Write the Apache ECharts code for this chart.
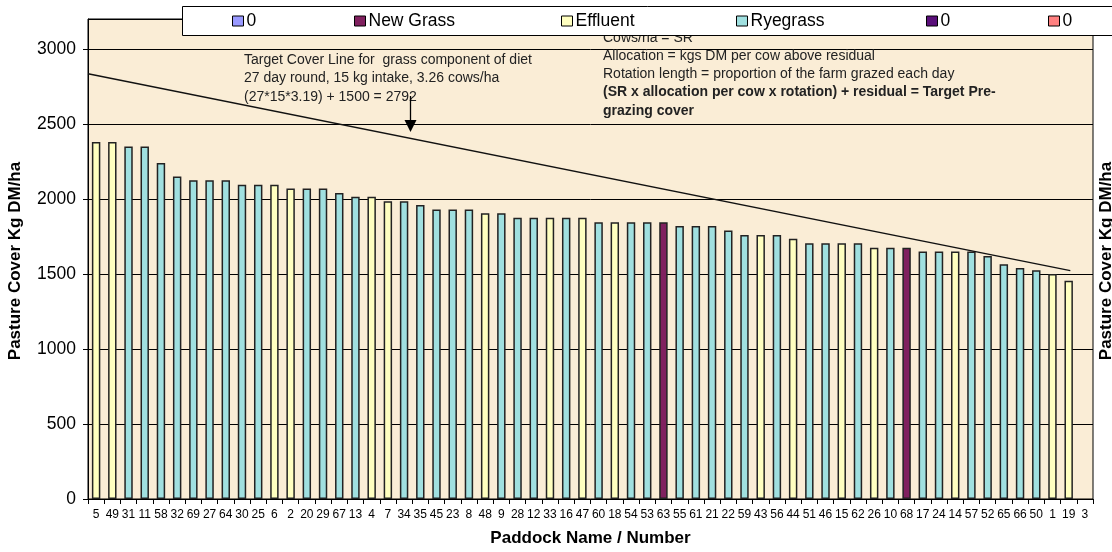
<!DOCTYPE html>
<html>
<head>
<meta charset="utf-8">
<script src="https://cdn.jsdelivr.net/npm/echarts@6/dist/echarts.min.js"></script>
<style>html,body{margin:0;padding:0;background:#fff;}#c{width:1112px;height:552px;}</style>
</head>
<body>
<div id="c"></div>
<script>
// ---- data ----
var paddocks = ['5','49','31','11','58','32','69','27','64','30','25','6','2','20','29','67','13','4','7','34','35','45','23','8','48','9','28','12','33','16','47','60','18','54','53','63','55','61','21','22','59','43','56','44','51','46','15','62','26','10','68','17','24','14','57','52','65','66','50','1','19','3'];
var covers = [2380,2380,2350,2350,2240,2150,2125,2125,2125,2095,2095,2095,2070,2070,2070,2040,2015,2015,1985,1985,1960,1930,1930,1930,1905,1905,1875,1875,1875,1875,1875,1845,1845,1845,1845,1845,1820,1820,1820,1790,1760,1760,1760,1735,1705,1705,1705,1705,1675,1675,1675,1650,1650,1650,1650,1620,1565,1540,1525,1500,1455,0];
// R = Ryegrass, Y = Effluent, N = New Grass, '' = no bar
var types = ['Y','Y','R','R','R','R','R','R','R','R','R','Y','Y','R','R','R','R','Y','Y','R','R','R','R','R','Y','R','R','R','Y','R','Y','R','Y','R','R','N','R','R','R','R','R','Y','R','Y','R','R','Y','R','Y','R','N','R','R','Y','R','R','R','R','R','Y','Y',''];
var seriesNames = ['0a','New Grass','Effluent','Ryegrass','0b','0c'];
var seriesCodes = ['B','N','Y','R','P','S'];
var yTicks = [0,500,1000,1500,2000,2500,3000];
var targetLine = [[0,2835],[60.6,1523]];

var colors = {B:'#9999FF', N:'#80205F', Y:'#FFFFC0', R:'#A0E0E0', P:'#5A0F7A', S:'#FF8080'};
var legendX = [232,354,561,736,926,1048];
var FONT = 'Liberation Sans, Arial, sans-serif';

var series = seriesCodes.map(function(code, k){
  return {
    type:'bar', name: seriesNames[k], stack:'total', barWidth:'52%',
    itemStyle:{color: colors[code], borderColor:'#222', borderWidth:1.5},
    data: covers.map(function(v,i){ return types[i]===code ? v : '-'; }),
    z:3
  };
});
series.push({
  type:'line', name:'target', xAxisIndex:1, yAxisIndex:0, data: targetLine,
  symbol:'none', silent:true, lineStyle:{color:'#111', width:1.3}, z:4
});

var legends = seriesNames.map(function(n,k){
  return {
    data:[n], left: legendX[k], top: 12, padding:0, itemWidth:11, itemHeight:10, itemGap:0,
    icon:'rect', selectedMode:false, z:20,
    itemStyle:{borderColor:'#000', borderWidth:1},
    textStyle:{fontFamily:FONT, fontSize:17.5, color:'#000', padding:[0,0,0,-2]},
    formatter:function(name){ return name.charAt(0)==='0' ? '0' : name; }
  };
});

var chart = echarts.init(document.getElementById('c'), null, {renderer:'canvas'});
chart.setOption({
  animation:false,
  backgroundColor:'#fff',
  legend: legends,
  grid:{left:88, right:19, top:19, bottom:49, show:true, backgroundColor:'#FAEDD6', borderColor:'#000', borderWidth:1, containLabel:false},
  xAxis:[{
    type:'category', data: paddocks,
    axisLine:{lineStyle:{color:'#000', width:1}},
    axisTick:{show:true, alignWithLabel:false, length:5, inside:false, lineStyle:{color:'#000'}},
    axisLabel:{interval:0, fontFamily:FONT, fontSize:12, color:'#000', margin:10},
    name:'Paddock Name / Number', nameLocation:'middle', nameGap:31,
    nameTextStyle:{fontFamily:FONT, fontSize:17, fontWeight:'bold', color:'#000'}
  },{
    type:'value', min:0, max:paddocks.length, show:false
  }],
  yAxis:[{
    type:'value', min:0, max:3200, interval:500,
    axisLine:{show:true, lineStyle:{color:'#000'}},
    axisTick:{show:true, length:5, lineStyle:{color:'#000'}},
    axisLabel:{fontFamily:FONT, fontSize:17.5, color:'#000', margin:12, showMaxLabel:false,
      formatter:function(v){ return yTicks.indexOf(v)>=0 ? String(v) : ''; }},
    splitLine:{show:true, lineStyle:{color:'#000', width:1}}
  }],
  series: series,
  graphic:[
    {type:'text', x:15, y:261, rotation:Math.PI/2, z:5, style:{text:'Pasture Cover Kg DM/ha', font:'bold 17px '+FONT, fill:'#000', textAlign:'center', textVerticalAlign:'middle'}},
    {type:'text', x:1106, y:261, rotation:Math.PI/2, z:5, style:{text:'Pasture Cover Kg DM/ha', font:'bold 17px '+FONT, fill:'#000', textAlign:'center', textVerticalAlign:'middle'}},
    {type:'text', x:244, y:60, z:5, style:{text:'Target Cover Line for  grass component of diet', font:'14px '+FONT, fill:'#222', textVerticalAlign:'middle'}},
    {type:'text', x:244, y:78.5, z:5, style:{text:'27 day round, 15 kg intake, 3.26 cows/ha', font:'14px '+FONT, fill:'#222', textVerticalAlign:'middle'}},
    {type:'text', x:244, y:97, z:5, style:{text:'(27*15*3.19) + 1500 = 2792', font:'14px '+FONT, fill:'#222', textVerticalAlign:'middle'}},
    {type:'line', z:6, shape:{x1:410.5, y1:96, x2:410.5, y2:122}, style:{stroke:'#000', lineWidth:1.3}},
    {type:'polygon', z:6, shape:{points:[[404.5,120],[416.5,120],[410.5,132]]}, style:{fill:'#000'}},
    {type:'text', x:603, y:38, z:5, style:{text:'Cows/ha = SR', font:'14px '+FONT, fill:'#222', textVerticalAlign:'middle'}},
    {type:'text', x:603, y:56, z:5, style:{text:'Allocation = kgs DM per cow above residual', font:'14px '+FONT, fill:'#222', textVerticalAlign:'middle'}},
    {type:'text', x:603, y:74, z:5, style:{text:'Rotation length = proportion of the farm grazed each day', font:'14px '+FONT, fill:'#222', textVerticalAlign:'middle'}},
    {type:'text', x:603, y:92.5, z:5, style:{text:'(SR x allocation per cow x rotation) + residual = Target Pre-', font:'bold 14px '+FONT, fill:'#222', textVerticalAlign:'middle'}},
    {type:'text', x:603, y:111, z:5, style:{text:'grazing cover', font:'bold 14px '+FONT, fill:'#222', textVerticalAlign:'middle'}},
    {type:'rect', z:10, shape:{x:182.5, y:6.5, width:940, height:29}, style:{fill:'#fff', stroke:'#000', lineWidth:1}}
  ]
});
</script>
</body>
</html>
